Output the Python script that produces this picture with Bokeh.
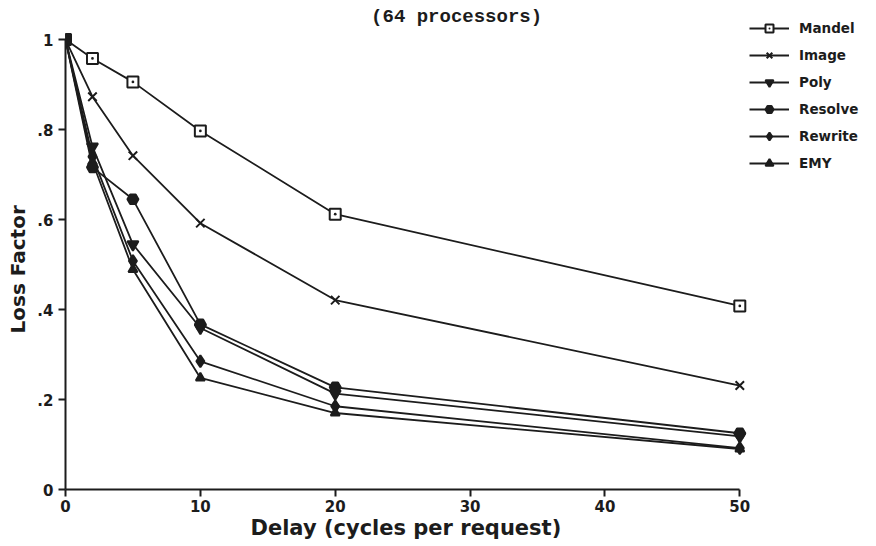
from bokeh.plotting import figure
from bokeh.models import Range1d, FixedTicker, CustomJSTickFormatter, Legend, LegendItem, Title, Label
from bokeh.embed import file_html
from bokeh.resources import INLINE

delay = [0, 2, 5, 10, 20, 50]
mandel = [1.0, 0.958, 0.906, 0.797, 0.612, 0.408]
image = [1.0, 0.873, 0.742, 0.592, 0.421, 0.231]
poly = [1.0, 0.762, 0.545, 0.359, 0.213, 0.118]
resolve = [1.0, 0.716, 0.645, 0.367, 0.227, 0.125]
rewrite = [1.0, 0.740, 0.508, 0.285, 0.185, 0.092]
emy = [1.0, 0.728, 0.489, 0.248, 0.170, 0.090]
series_names = ["Mandel", "Image", "Poly", "Resolve", "Rewrite", "EMY"]
x_ticks = [0, 10, 20, 30, 40, 50]
y_ticks = [0, 0.2, 0.4, 0.6, 0.8, 1.0]
title_text = "(64 processors)"
x_title = "Delay (cycles per request)"
y_title = "Loss Factor"

INK = "#1c1c1c"
FONT = "DejaVu Sans"

p = figure(width=860, height=540, output_backend="svg", toolbar_location=None,
           x_range=Range1d(0, 58.95), y_range=Range1d(0, 1.0869),
           min_border_left=63, min_border_right=0, min_border_top=0, min_border_bottom=50)
p.outline_line_color = None
p.grid.visible = False
p.background_fill_color = "white"
p.border_fill_color = "white"

for ax in (p.xaxis[0], p.yaxis[0]):
    ax.axis_line_color = INK
    ax.axis_line_width = 2
    ax.major_tick_line_color = INK
    ax.major_tick_line_width = 2
    ax.major_tick_out = 7
    ax.major_tick_in = 0
    ax.minor_tick_line_color = None
    ax.major_label_text_font = FONT
    ax.major_label_text_font_style = "bold"
    ax.major_label_text_font_size = "15px"
    ax.major_label_text_color = INK

p.xaxis.ticker = FixedTicker(ticks=x_ticks)
p.xaxis.bounds = (0, 50)
p.xaxis.major_label_standoff = 3

p.yaxis.ticker = FixedTicker(ticks=y_ticks)
p.yaxis.bounds = (0, 1)
p.yaxis.major_label_standoff = 5
p.yaxis.major_label_orientation = "horizontal"
p.yaxis.formatter = CustomJSTickFormatter(code="""
if (Math.abs(tick) < 1e-9) return "0";
if (Math.abs(tick - 1) < 1e-9) return "1";
return tick.toFixed(1).replace(/^0/, "");
""")

# axis titles placed as panel titles so they can be positioned like the original
p.add_layout(Title(text=x_title, align="left", offset=185, standoff=0, vertical_align="middle",
                   text_font=FONT, text_font_style="bold", text_font_size="21px",
                   text_color=INK), "below")
p.add_layout(Title(text=y_title, align="left", offset=156, standoff=8, vertical_align="middle",
                   text_font=FONT, text_font_style="bold", text_font_size="20px",
                   text_color=INK), "left")

data = [mandel, image, poly, resolve, rewrite, emy]
markers = ["square_dot", "x", "inverted_triangle", "hex", "diamond", "triangle"]
sizes = [11, 12, 11, 11, 12, 9]
fills = ["white", INK, INK, INK, INK, INK]

items = []
for name, ys, mk, sz, fc in zip(series_names, data, markers, sizes, fills):
    ln = p.line(delay, ys, line_color=INK, line_width=1.8)
    sc = p.scatter(delay, ys, marker=mk, size=sz, line_color=INK, fill_color=fc, line_width=2)
    items.append(LegendItem(label=name, renderers=[ln, sc]))

legend = Legend(items=items, location=(684, 316), orientation="vertical",
                glyph_width=40, glyph_height=20, label_height=20, spacing=7,
                padding=0, margin=0, label_standoff=10,
                label_text_font=FONT, label_text_font_style="bold",
                label_text_font_size="13.5px", label_text_color=INK,
                border_line_color=None, background_fill_alpha=0)
p.add_layout(legend)

p.add_layout(Label(x=29, y=1.051, text=title_text, text_align="center", text_baseline="middle",
                   text_font="Liberation Mono", text_font_style="bold", text_font_size="19px",
                   text_color=INK))

open("out.html", "w").write(file_html(p, INLINE))
